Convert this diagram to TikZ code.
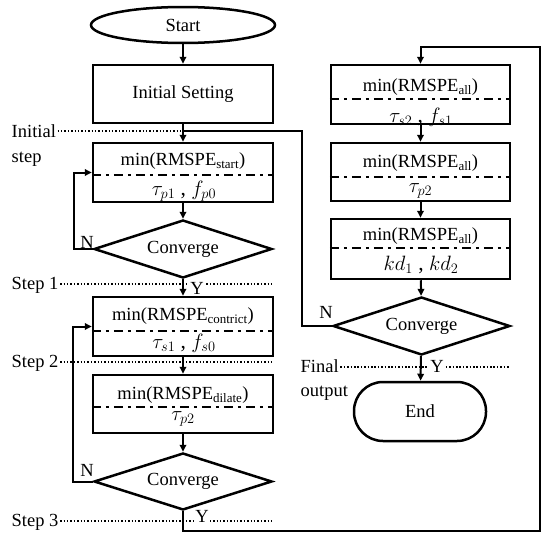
\documentclass[tikz,border=0pt]{standalone}
\usepackage{fontspec}
\setmainfont{Liberation Serif}
\usetikzlibrary{arrows.meta,shapes.geometric}
\begin{document}
\begin{tikzpicture}[x=1pt,y=-1pt,
  every node/.style={font=\fontsize{18.5}{22}\selectfont},
  box/.style={draw,line width=2.5pt,minimum width=180pt,inner sep=0pt},
  rbox/.style={draw,line width=2.5pt,minimum width=179pt,inner sep=0pt},
  dec/.style={draw,diamond,line width=2.5pt,aspect=3,inner sep=0pt,minimum width=178pt,minimum height=58pt},
  txt/.style={inner sep=0pt},
  mth/.style={inner sep=0pt,font=\fontsize{21.5}{24}\selectfont},
  lab/.style={inner sep=1.5pt,anchor=base west},
  ylab/.style={inner sep=1pt,fill=white},
  dd/.style={line width=2.4pt,dash pattern=on 9pt off 5pt on 3pt off 5pt},
  dotline/.style={line width=1.8pt,dash pattern=on 1.5pt off 1.9pt},
  conn/.style={line width=2pt},
  arr/.style={conn,-{Triangle[length=7pt,width=6.5pt]}}
]
\useasboundingbox (0,0) rectangle (550,538);

% ---------- left column ----------
\node[draw,ellipse,line width=2.5pt,inner sep=0pt,minimum width=184pt,minimum height=36pt] (start) at (183,25) {Start};
\node[box,minimum height=58pt] (init) at (183,94) {Initial Setting};

\node[box,minimum height=59pt] (b1) at (183,172.5) {};
\node[txt] (b1t) at (183,161) {min(RMSPE\textsubscript{start})};
\node[mth] (b1m) at (184,191) {$\tau_{p1}$ , $f_{p0}$};
\draw[dd] ([yshift=-2.5pt]b1.west) -- ([yshift=-2.5pt]b1.east);

\node[dec] (d1) at (183,249) {Converge};

\node[box,minimum height=59pt] (b2) at (183,326.5) {};
\node[txt] (b2t) at (183,316) {min(RMSPE\textsubscript{contrict})};
\node[mth] (b2m) at (184,343) {$\tau_{s1}$ , $f_{s0}$};
\draw[dd] ([yshift=-4.5pt]b2.west) -- ([yshift=-4.5pt]b2.east);

\node[box,minimum height=58pt] (b3) at (183,404) {};
\node[txt] (b3t) at (183,395) {min(RMSPE\textsubscript{dilate})};
\node[mth] (b3m) at (183,419) {$\tau_{p2}$};
\draw[dd] ([yshift=-3pt]b3.west) -- ([yshift=-3pt]b3.east);

\node[dec,minimum height=57pt] (d2) at (183,481.5) {Converge};

% ---------- right column ----------
\node[rbox,minimum height=59pt] (r1) at (420.5,94.5) {};
\node[txt] (r1t) at (420.5,87) {min(RMSPE\textsubscript{all})};
\node[mth] (r1m) at (421,117) {$\tau_{s2}$ , $f_{s1}$};
\draw[dd] ([yshift=-4.5pt]r1.west) -- ([yshift=-4.5pt]r1.east);

\node[rbox,minimum height=58pt] (r2) at (420.5,172) {};
\node[txt] (r2t) at (420.5,163) {min(RMSPE\textsubscript{all})};
\node[mth] (r2m) at (420.5,191) {$\tau_{p2}$};
\draw[dd] ([yshift=-5pt]r2.west) -- ([yshift=-5pt]r2.east);

\node[rbox,minimum height=60pt] (r3) at (420.5,249) {};
\node[txt] (r3t) at (420.5,236) {min(RMSPE\textsubscript{all})};
\node[mth] (r3m) at (421,265) {$kd_1$ , $kd_2$};
\draw[dd] ([yshift=1pt]r3.west) -- ([yshift=1pt]r3.east);

\node[dec,minimum width=177pt] (dR) at (421.5,326) {Converge};

\node[draw,line width=2.5pt,minimum width=132pt,minimum height=59pt,rounded corners=29pt] (end) at (420,411.5) {End};

% ---------- step labels and dotted lines ----------
\coordinate (jn) at (183,131);
\coordinate (jr) at (302,131);
\coordinate (s1e) at (272,284);
\coordinate (s2e) at (272,362);
\coordinate (s3e) at (272,521);
\coordinate (fe) at (510,367);

\node[lab] (il1) at (10,137) {Initial};
\node[lab] (il2) at (10,162) {step};
\node[lab,anchor=west] (s1) at (10,285) {Step 1};
\node[lab,anchor=west] (s2) at (10,363) {Step 2};
\node[lab,anchor=west] (s3) at (10,522) {Step 3};
\node[lab] (fi1) at (299,372) {Final};
\node[lab] (fi2) at (299,396) {output};

\draw[dotline] (il1.east |- jn) -- (jn);
\draw[dotline] (s1.east |- s1e) -- (s1e);
\draw[dotline] (s2.east |- s2e) -- (s2e);
\draw[dotline] (s3.east |- s3e) -- (s3e);
\draw[dotline] (fi1.east |- fe) -- (fe);

\node[ylab] (y1) at (197,288) {Y};
\node[ylab] (y3) at (202,516) {Y};
\node[ylab] (yR) at (437,366) {Y};

\node[txt] (n1) at (87,242) {N};
\node[txt] (n2) at (87,470) {N};
\node[txt] (nR) at (326,312) {N};

% ---------- connectors ----------
\draw[arr] (start) -- (init);
\draw[arr] (init) -- (b1);
\draw[arr] (b1) -- (d1);
\draw[arr] (d1) -- (b2);
\draw[arr] (b2) -- (b3);
\draw[arr] (b3) -- (d2);
\draw[arr] (d1.west) -- ++(-19,0) |- (b1.west);
\draw[arr] (d2.west) -- ++(-20,0) |- (b2.west);

\draw[arr] (r1) -- (r2);
\draw[arr] (r2) -- (r3);
\draw[arr] (r3) -- (dR);
\draw[arr] (dR) -- (end);
\draw[conn] (dR.west) -| (jr) -- (jn);

\coordinate (ob) at (540,531);
\coordinate (ot) at (540,47);
\draw[arr] (d2.south) |- (ob) -- (ot) -| (r1.north);
\end{tikzpicture}
\end{document}
